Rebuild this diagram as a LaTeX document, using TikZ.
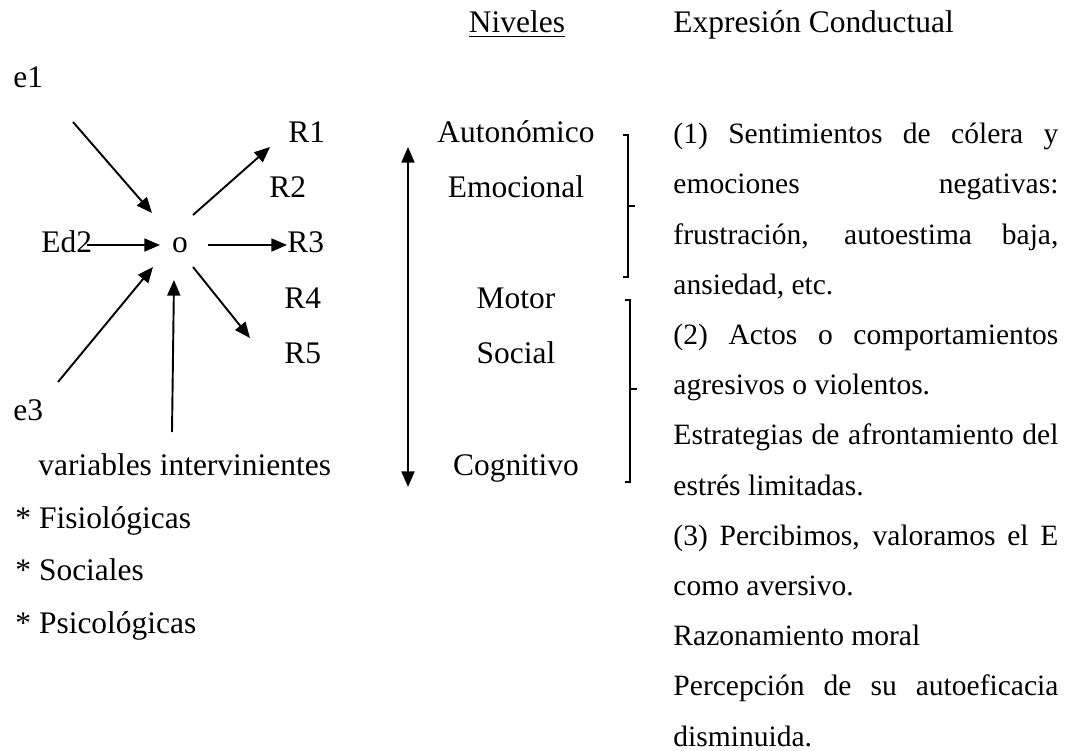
\documentclass[tikz,border=0pt]{standalone}
\usepackage{fontspec}
\setmainfont{Liberation Serif}
\usepackage{tikz}
\usetikzlibrary{positioning}
\usetikzlibrary{arrows.meta}
\tikzset{lbl/.style={font=\fontsize{13.1}{15.7}\selectfont, inner sep=0pt, anchor=base west},
        lvl/.style={lbl, anchor=base},
        arr/.style={-{Triangle[length=6.5pt,width=5.4pt]}, line width=0.8pt},
        brace/.style={line width=0.45pt},
        expr/.style={font=\fontsize{12.3}{20.92}\selectfont, inner sep=0pt, anchor=north west,
          text width=160.4pt, align=justify}
}

\begin{document}
\begin{tikzpicture}[x=0.41667pt, y=-0.41667pt]
      \useasboundingbox (0,0) rectangle (1073,751);
      % HEADINGS
      \node[lvl] (niveles) at (517,33) {\underline{Niveles}};
      \node[lbl] (expresion) at (673,33) {Expresión Conductual};

      % STIMULI AND RESPONSES
      \node[lbl] (e1) at (13,88) {e1};
      \node[lbl] (ed2) at (41,253) {Ed2};
      \node[lbl] (e3) at (13,420) {e3};
      \node[lvl] (o) at (180,253) {o};
      \node[lbl] (r1) at (288,143) {R1};
      \node[lbl] (r2) at (269,198) {R2};
      \node[lbl] (r3) at (287,253) {R3};
      \node[lbl] (r4) at (284,308) {R4};
      \node[lbl] (r5) at (284,363) {R5};
      \node[lbl] (vars) at (38,475) {variables intervinientes};
      \node[lbl] (fisio) at (15,528) {* Fisiológicas};
      \node[lbl] (soci) at (15,580) {* Sociales};
      \node[lbl] (psico) at (15,633) {* Psicológicas};

      % arrow ends round the o
      \coordinate (e1a) at (73,122);   \coordinate (e1b) at (152,213);
      \coordinate (ed2a) at (87,245);  \coordinate (ed2b) at (160,245);
      \coordinate (e3a) at (58,382);   \coordinate (e3b) at (153,267);
      \coordinate (varsa) at (172,432); \coordinate (varsb) at (174,280);
      \coordinate (r1a) at (193,215);  \coordinate (r1b) at (270,147);
      \coordinate (r3a) at (208,245);  \coordinate (r3b) at (287,245);
      \coordinate (r5a) at (193,267);  \coordinate (r5b) at (250,338);
      \draw[arr] (e1a) -- (e1b);
      \draw[arr] (ed2a) -- (ed2b);
      \draw[arr] (e3a) -- (e3b);
      \draw[arr] (varsa) -- (varsb);
      \draw[arr] (r1a) -- (r1b);
      \draw[arr] (r3a) -- (r3b);
      \draw[arr] (r5a) -- (r5b);

      % LEVELS
      \node[lvl] (auto) at (516,143) {Autonómico};
      \node[lvl] (emoc) at (516,198) {Emocional};
      \node[lvl] (motor) at (516,308) {Motor};
      \node[lvl] (social) at (516,363) {Social};
      \node[lvl] (cogn) at (516,475) {Cognitivo};
      \coordinate (lvtop) at (408,147);
      \coordinate (lvbot) at (408,487);
      \draw[arr, {Triangle[length=6.5pt,width=5.4pt]}-{Triangle[length=6.5pt,width=5.4pt]}] (lvtop) -- (lvbot);

      % brackets
      \draw[brace] (623,135) -- (628,135) -- (628,277) -- (623,277);
      \draw[brace] (628,206) -- (635,206);
      \draw[brace] (625,300) -- (630,300) -- (630,482) -- (625,482);
      \draw[brace] (630,389) -- (637,389);

      % BEHAVIOURAL EXPRESSION
      \node[expr] (texto) at (673,108) {\parindent=0pt\tolerance=10000\hbadness=10000
        \strut(1) Sentimientos de cólera y\linebreak emociones negativas:\linebreak
        frustración, autoestima baja,\linebreak ansiedad, etc.\par
        (2) Actos o comportamientos\linebreak agresivos o violentos.\par
        Estrategias de afrontamiento del\linebreak estrés limitadas.\par
        (3) Percibimos, valoramos el E\linebreak como aversivo.\par
        Razonamiento moral\par
        Percepción de su autoeficacia\linebreak disminuida.};
\end{tikzpicture}
\end{document}
